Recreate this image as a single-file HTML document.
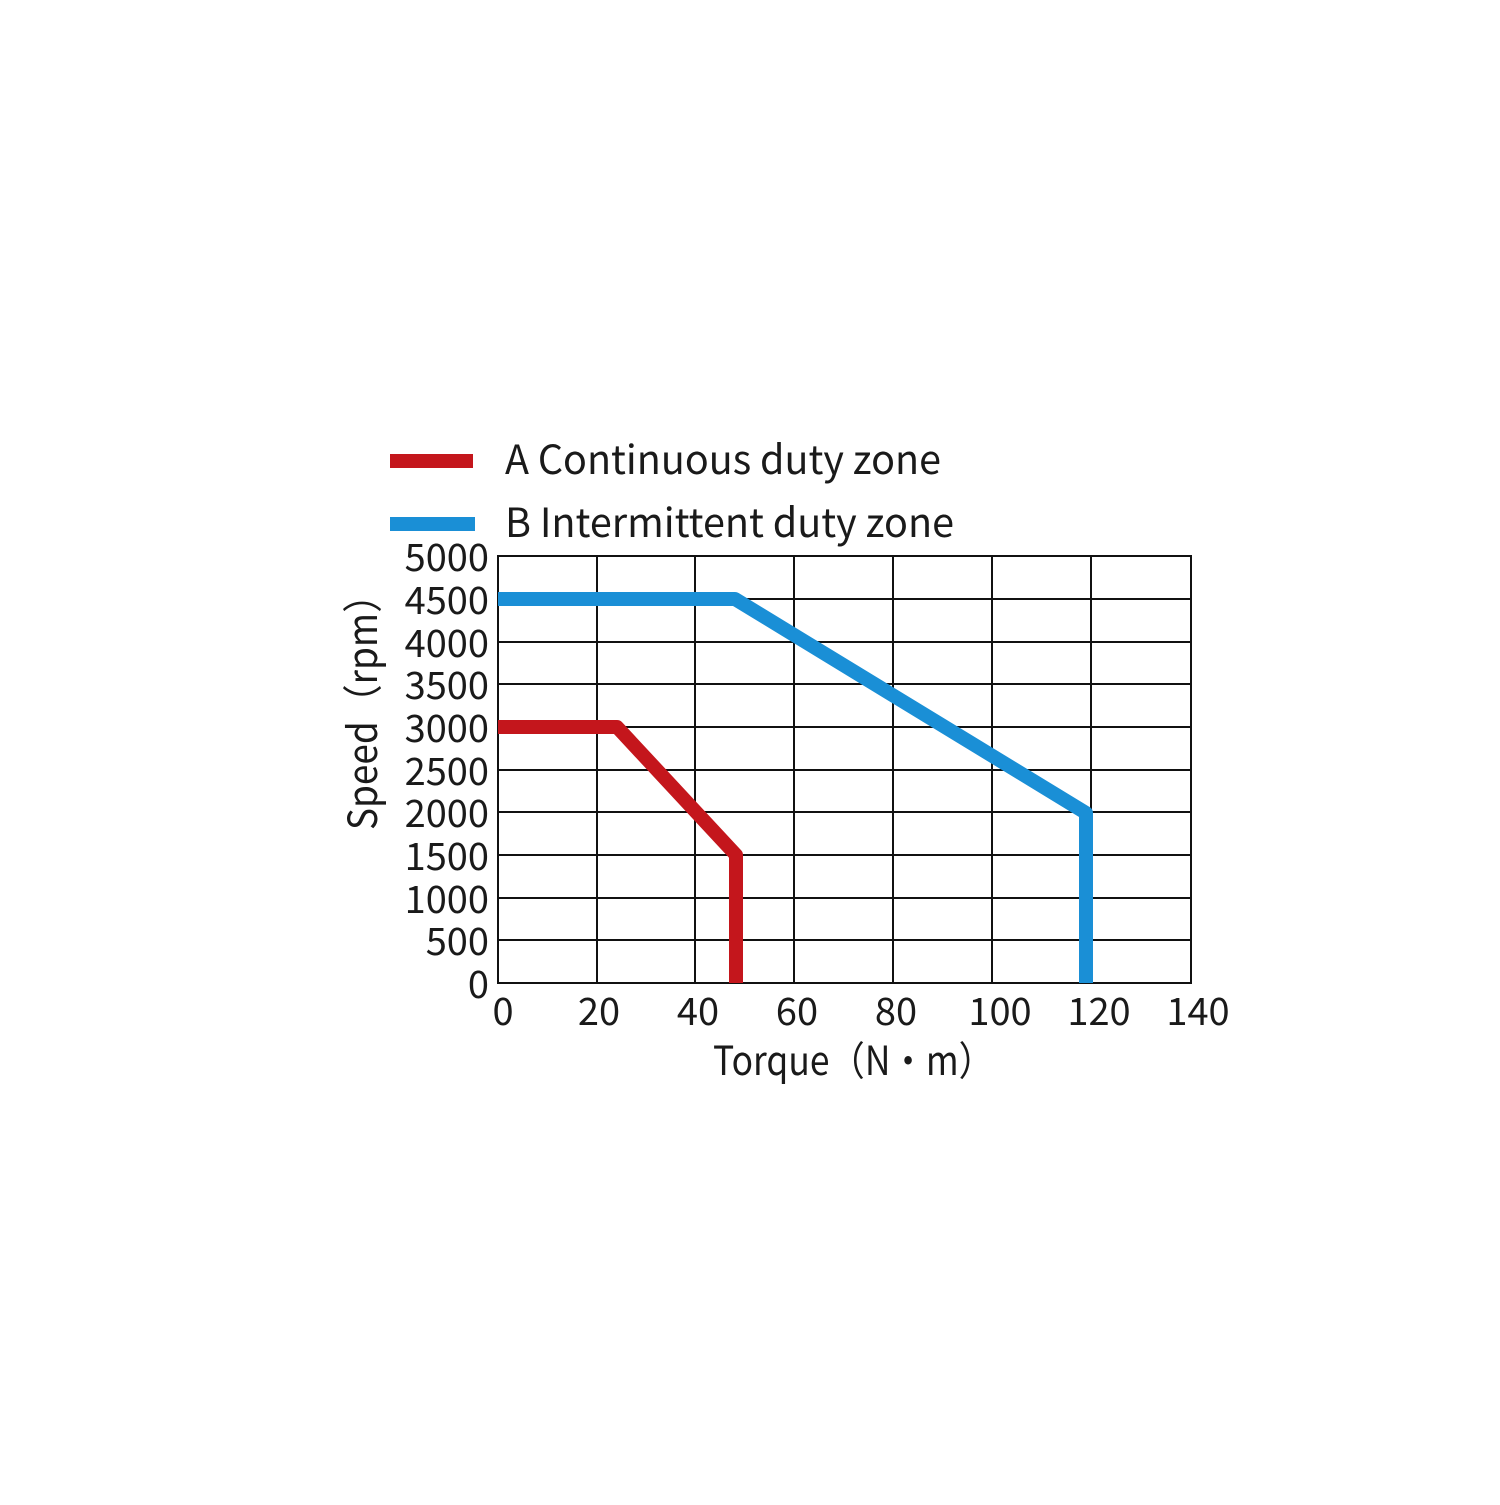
<!DOCTYPE html>
<html><head><meta charset="utf-8"><style>
html,body{margin:0;padding:0;background:#fff}
text{font-family:"Noto Sans CJK SC","Liberation Sans",sans-serif;fill:#1a1a1a}
</style></head><body>
<svg width="1500" height="1500" viewBox="0 0 1500 1500" xmlns="http://www.w3.org/2000/svg">
<rect x="390" y="454" width="83" height="14" fill="#c4161c"/>
<rect x="390" y="517" width="85" height="14" fill="#1a8fd6"/>
<text x="505" y="474" font-size="40" textLength="436" lengthAdjust="spacingAndGlyphs">A Continuous duty zone</text>
<text x="505" y="537" font-size="40" textLength="449" lengthAdjust="spacingAndGlyphs">B Intermittent duty zone</text>
<g stroke="#111" stroke-width="2" fill="none">
<rect x="498" y="556" width="693" height="427"/>
<line x1="597" y1="556" x2="597" y2="983"/>
<line x1="695" y1="556" x2="695" y2="983"/>
<line x1="794" y1="556" x2="794" y2="983"/>
<line x1="893" y1="556" x2="893" y2="983"/>
<line x1="992" y1="556" x2="992" y2="983"/>
<line x1="1091" y1="556" x2="1091" y2="983"/>
<line x1="498" y1="599" x2="1191" y2="599"/>
<line x1="498" y1="642" x2="1191" y2="642"/>
<line x1="498" y1="684" x2="1191" y2="684"/>
<line x1="498" y1="727" x2="1191" y2="727"/>
<line x1="498" y1="770" x2="1191" y2="770"/>
<line x1="498" y1="812" x2="1191" y2="812"/>
<line x1="498" y1="855" x2="1191" y2="855"/>
<line x1="498" y1="898" x2="1191" y2="898"/>
<line x1="498" y1="940" x2="1191" y2="940"/>
</g>
<polyline points="498,599 735,599 1086,813 1086,983" fill="none" stroke="#1a8fd6" stroke-width="14" stroke-linejoin="round"/>
<polyline points="498,727 617,727 736,855 736,983" fill="none" stroke="#c4161c" stroke-width="14" stroke-linejoin="round"/>
<g font-size="38" text-anchor="end">
<text x="489" y="571">5000</text>
<text x="489" y="614">4500</text>
<text x="489" y="657">4000</text>
<text x="489" y="699">3500</text>
<text x="489" y="742">3000</text>
<text x="489" y="785">2500</text>
<text x="489" y="827">2000</text>
<text x="489" y="870">1500</text>
<text x="489" y="913">1000</text>
<text x="489" y="955">500</text>
<text x="489" y="998">0</text>
</g>
<g font-size="38" text-anchor="middle">
<text x="503" y="1025">0</text>
<text x="599" y="1025">20</text>
<text x="698" y="1025">40</text>
<text x="797" y="1025">60</text>
<text x="896" y="1025">80</text>
<text x="1000" y="1025">100</text>
<text x="1099" y="1025">120</text>
<text x="1198" y="1025">140</text>
</g>
<text x="713" y="1075" font-size="40" textLength="281" lengthAdjust="spacingAndGlyphs">Torque（N·m）</text>
<text transform="translate(377,830) rotate(-90)" font-size="40" textLength="254" lengthAdjust="spacingAndGlyphs">Speed（rpm）</text>
</svg>
</body></html>
